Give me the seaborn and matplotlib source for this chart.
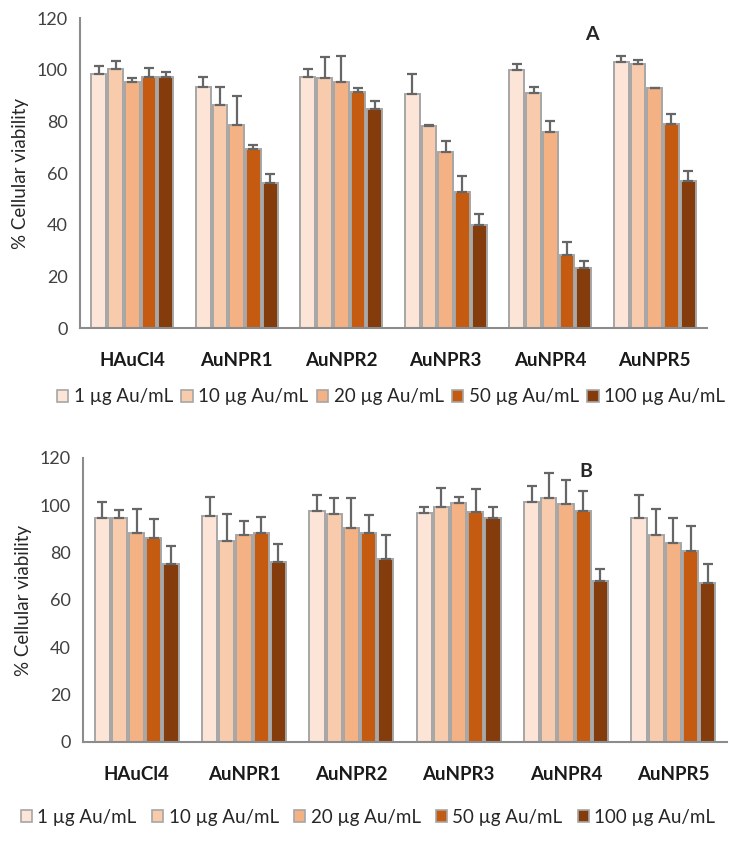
import numpy as np
import pandas as pd
import matplotlib
matplotlib.use("Agg")
import matplotlib.pyplot as plt
from matplotlib.patches import Patch
import seaborn as sns

categories = ["HAuCl4", "AuNPR1", "AuNPR2", "AuNPR3", "AuNPR4", "AuNPR5"]
doses = ["1 µg Au/mL", "10 µg Au/mL", "20 µg Au/mL", "50 µg Au/mL", "100 µg Au/mL"]
colors = ["#FCE4D6", "#F8CBAD", "#F4B183", "#C55A11", "#843C0C"]
yticks = [0, 20, 40, 60, 80, 100, 120]

# Panel A: mean viability per sample (values for the five doses)
a_HAuCl4 = [98.3, 100.3, 95.1, 97.0, 97.0]
a_AuNPR1 = [93.2, 86.3, 78.7, 69.2, 56.1]
a_AuNPR2 = [97.0, 96.6, 95.1, 91.5, 84.8]
a_AuNPR3 = [90.6, 78.1, 68.0, 52.5, 40.0]
a_AuNPR4 = [99.7, 91.0, 75.9, 28.4, 23.2]
a_AuNPR5 = [103.0, 102.2, 92.9, 79.1, 57.0]
# Panel A: error (SD)
a_err_HAuCl4 = [3.0, 3.2, 1.5, 3.6, 2.1]
a_err_AuNPR1 = [4.0, 6.9, 11.0, 1.8, 3.6]
a_err_AuNPR2 = [3.3, 8.2, 10.1, 1.3, 3.2]
a_err_AuNPR3 = [7.9, 0.4, 4.5, 6.5, 4.3]
a_err_AuNPR4 = [2.6, 2.2, 4.1, 4.9, 2.6]
a_err_AuNPR5 = [2.2, 1.7, 0.0, 3.7, 3.9]

# Panel B: mean viability
b_HAuCl4 = [94.6, 94.6, 88.2, 86.1, 75.2]
b_AuNPR1 = [95.3, 85.1, 87.4, 88.2, 76.1]
b_AuNPR2 = [97.4, 96.4, 90.6, 88.5, 77.4]
b_AuNPR3 = [96.6, 99.1, 101.1, 97.3, 94.5]
b_AuNPR4 = [101.2, 103.3, 100.5, 97.7, 68.1]
b_AuNPR5 = [94.5, 87.4, 83.9, 80.8, 67.3]
# Panel B: error (SD)
b_err_HAuCl4 = [7.0, 3.5, 10.3, 8.1, 7.8]
b_err_AuNPR1 = [8.2, 11.2, 6.1, 6.8, 7.5]
b_err_AuNPR2 = [7.1, 6.7, 12.5, 7.5, 10.1]
b_err_AuNPR3 = [2.9, 8.2, 2.4, 9.7, 4.8]
b_err_AuNPR4 = [7.1, 10.4, 10.0, 8.2, 4.9]
b_err_AuNPR5 = [9.8, 11.1, 10.7, 10.5, 8.0]

panel_a = [a_HAuCl4, a_AuNPR1, a_AuNPR2, a_AuNPR3, a_AuNPR4, a_AuNPR5]
panel_a_err = [a_err_HAuCl4, a_err_AuNPR1, a_err_AuNPR2, a_err_AuNPR3, a_err_AuNPR4, a_err_AuNPR5]
panel_b = [b_HAuCl4, b_AuNPR1, b_AuNPR2, b_AuNPR3, b_AuNPR4, b_AuNPR5]
panel_b_err = [b_err_HAuCl4, b_err_AuNPR1, b_err_AuNPR2, b_err_AuNPR3, b_err_AuNPR4, b_err_AuNPR5]

sns.set_style("white")
plt.rcParams["font.family"] = ["Lato", "DejaVu Sans"]


def make_df(vals, errs):
    rows = []
    for c, v, e in zip(categories, vals, errs):
        for d, vv, ee in zip(doses, v, e):
            rows.append({"sample": c, "dose": d, "viability": vv, "err": ee})
    return pd.DataFrame(rows)


W, H = 742, 843
fig = plt.figure(figsize=(W / 100, H / 100), dpi=100)

spine_col = "#8C8C8C"
edge_col = "#A6A6A6"


def draw(ax, df, letter, letter_pos):
    sns.barplot(data=df, x="sample", y="viability", hue="dose",
                order=categories, hue_order=doses, palette=colors, saturation=1,
                width=0.8, gap=0.12, edgecolor=edge_col, linewidth=1.4,
                errorbar=None, legend=False, ax=ax)
    bar_conts = list(ax.containers)
    for i, cont in enumerate(bar_conts):
        sub = df[df["dose"] == doses[i]].set_index("sample").loc[categories]
        xs = [b.get_x() + b.get_width() / 2 for b in cont]
        ys = [b.get_height() for b in cont]
        errs = sub["err"].values
        ax.errorbar(xs, ys, yerr=[np.zeros(len(errs)), errs], fmt="none",
                    ecolor="#666666", elinewidth=1.6, capsize=3.5, capthick=1.6,
                    zorder=3)
    ax.set_ylim(0, 120)
    ax.set_xlim(-0.5, 5.5)
    ax.set_yticks(yticks)
    ax.set_xlabel("")
    ax.set_ylabel("% Cellular viability", fontsize=13.5, color="#262626", labelpad=5)
    for s in ["top", "right"]:
        ax.spines[s].set_visible(False)
    for s in ["left", "bottom"]:
        ax.spines[s].set_color(spine_col)
        ax.spines[s].set_linewidth(1.5)
    ax.tick_params(axis="x", length=0, pad=17, labelsize=13.5)
    ax.tick_params(axis="y", length=5, width=1.2, color=spine_col,
                   labelsize=13, labelcolor="#404040", pad=4)
    for t in ax.get_xticklabels():
        t.set_fontweight("bold")
        t.set_color("#1a1a1a")
    ax.text(letter_pos[0], letter_pos[1], letter, transform=ax.transAxes,
            fontsize=14, fontweight="bold", ha="center", va="center")


# Panel A
axA = fig.add_axes([80 / W, 1 - 328 / H, (707 - 80) / W, (328 - 18) / H])
draw(axA, make_df(panel_a, panel_a_err), "A", (0.817, 0.948))

# Panel B
axB = fig.add_axes([83 / W, 1 - 742 / H, (727 - 83) / W, (742 - 458) / H])
draw(axB, make_df(panel_b, panel_b_err), "B", (0.781, 0.951))

handles = [Patch(facecolor=c, edgecolor=edge_col, linewidth=1.2) for c in colors]
fig.legend(handles, doses, loc="center", bbox_to_anchor=(391 / W, 1 - 397 / H),
           ncol=5, frameon=False, handlelength=0.6, handleheight=0.6,
           handletextpad=0.3, columnspacing=0.45, fontsize=13.5, labelcolor="#262626")
fig.legend(handles, doses, loc="center", bbox_to_anchor=(368 / W, 1 - 817 / H),
           ncol=5, frameon=False, handlelength=0.6, handleheight=0.6,
           handletextpad=0.3, columnspacing=0.8, fontsize=13.5, labelcolor="#262626")

fig.savefig("out.png", dpi=100)
